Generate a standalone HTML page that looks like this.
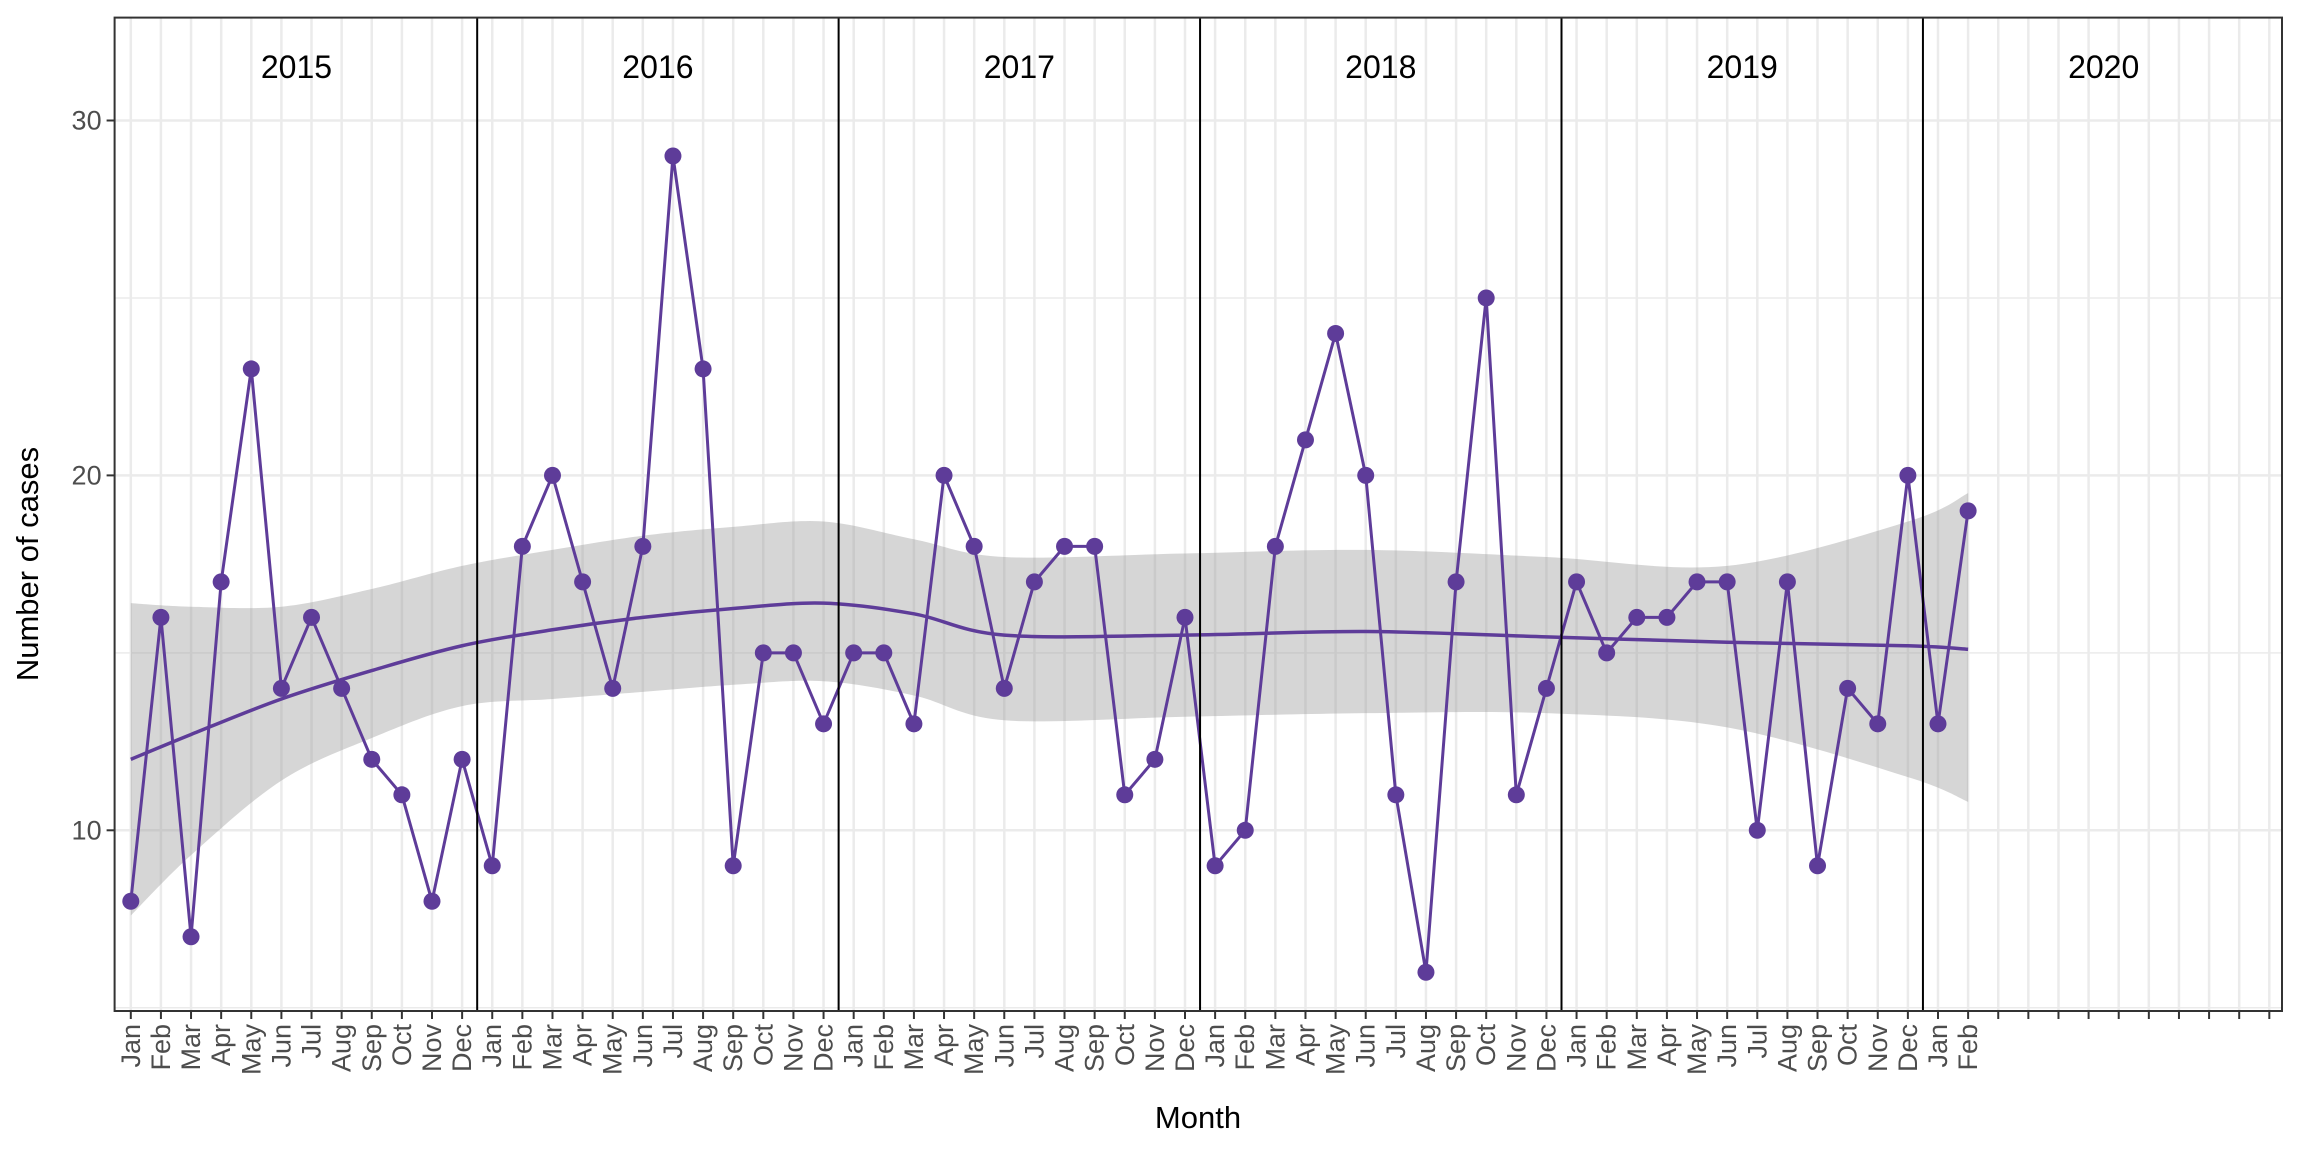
<!DOCTYPE html>
<html><head><meta charset="utf-8"><style>
html,body{margin:0;padding:0;background:#fff;}
svg{display:block;font-family:"Liberation Sans",Arial,sans-serif;}
</style></head><body>
<svg id="chart" width="2304" height="1152" viewBox="0 0 2304 1152" xmlns="http://www.w3.org/2000/svg">
<g id="grid"></g>
<g id="ribbon"></g>
<g id="series"></g>
<g id="axes"></g>
<text x="38" y="564" font-size="31" fill="#000" text-anchor="middle" transform="rotate(-90 38 564)">Number of cases</text>
<text x="1198" y="1128" font-size="31" fill="#000" text-anchor="middle">Month</text>
</svg>
<script>
const years = ["2015","2016","2017","2018","2019","2020"];
const months = ["Jan","Feb","Mar","Apr","May","Jun","Jul","Aug","Sep","Oct","Nov","Dec"];
const cases = [8,16,7,17,23,14,16,14,12,11,8,12,
  9,18,20,17,14,18,29,23,9,15,15,13,
  15,15,13,20,18,14,17,18,18,11,12,16,
  9,10,18,21,24,20,11,6,17,25,11,14,
  17,15,16,16,17,17,10,17,9,14,13,20,
  13,19];
const smoothIdx = [0,2,5,8,11,14,17,20,23,26,29,35,41,47,53,59,61];
const smoothFit = [12.0,12.7,13.7,14.5,15.2,15.65,16.0,16.25,16.4,16.1,15.5,15.5,15.6,15.45,15.3,15.2,15.1];
const smoothUpper = [16.4,16.3,16.3,16.8,17.45,17.9,18.3,18.55,18.7,18.2,17.7,17.8,17.9,17.7,17.45,18.7,19.5];
const smoothLower = [7.6,9.3,11.4,12.6,13.5,13.7,13.9,14.1,14.2,13.8,13.1,13.2,13.3,13.3,12.9,11.5,10.8];
const yTicks = [10,20,30];
const yMinor = [5,15,25];

const NS="http://www.w3.org/2000/svg";
const L=114.6,R=2282,T=17.6,B=1011;
const x=i=>130.8+i*30.12;
const y=v=>120.5+(30-v)*35.49;
function mk(tag,attrs,parent){const e=document.createElementNS(NS,tag);for(const k in attrs)e.setAttribute(k,attrs[k]);parent.appendChild(e);return e;}
const grid=document.getElementById('grid'),rib=document.getElementById('ribbon'),ser=document.getElementById('series'),ax=document.getElementById('axes');
mk('rect',{x:L,y:T,width:R-L,height:B-T,fill:'#fff'},grid);
yMinor.forEach(v=>{if(y(v)>T&&y(v)<B){const l=mk('line',{x1:L,x2:R,y1:y(v),y2:y(v),stroke:'#ebebeb','stroke-width':1.5},grid);

}});
yTicks.forEach(v=>{const l=mk('line',{x1:L,x2:R,y1:y(v),y2:y(v),stroke:'#ebebeb','stroke-width':2.5},grid);

});
for(let i=0;i<years.length*12;i++){const l=mk('line',{x1:x(i),x2:x(i),y1:T,y2:B,stroke:'#ebebeb','stroke-width':2.5},grid);

}
function spline(idx,vals){const pts=idx.map((k,j)=>[x(k),y(vals[j])]);
 let d='M'+pts[0][0]+','+pts[0][1];
 for(let j=0;j<pts.length-1;j++){const p0=pts[Math.max(0,j-1)],p1=pts[j],p2=pts[j+1],p3=pts[Math.min(pts.length-1,j+2)];
  const c1=[p1[0]+(p2[0]-p0[0])/6,p1[1]+(p2[1]-p0[1])/6],c2=[p2[0]-(p3[0]-p1[0])/6,p2[1]-(p3[1]-p1[1])/6];
  d+=' C'+c1+' '+c2+' '+p2;}
 return d;}
function splinePts(idx,vals){const out=[];const pts=idx.map((k,j)=>[x(k),y(vals[j])]);
 for(let j=0;j<pts.length-1;j++){const p0=pts[Math.max(0,j-1)],p1=pts[j],p2=pts[j+1],p3=pts[Math.min(pts.length-1,j+2)];
  for(let t=0;t<1;t+=0.05){const t2=t*t,t3=t2*t;
   out.push([0,1].map(a=>0.5*((2*p1[a])+(-p0[a]+p2[a])*t+(2*p0[a]-5*p1[a]+4*p2[a]-p3[a])*t2+(-p0[a]+3*p1[a]-3*p2[a]+p3[a])*t3)));}}
 out.push(pts[pts.length-1]);return out;}
const up=splinePts(smoothIdx,smoothUpper),lo=splinePts(smoothIdx,smoothLower).reverse();
const band=mk('polygon',{points:up.concat(lo).map(p=>p.join(',')).join(' '),fill:'#999','fill-opacity':0.4},rib);


for(let k=1;k<years.length;k++){const xs=(x(12*k-1)+x(12*k))/2;const l=mk('line',{x1:xs,x2:xs,y1:T,y2:B,stroke:'#000','stroke-width':2},ax);

}
years.forEach((yr,k)=>{const t=mk('text',{x:(x(12*k)+x(12*k+11))/2,y:78,'font-size':32,'text-anchor':'middle',fill:'#000'},ax);t.textContent=yr;

});
const lp=mk('polyline',{points:cases.map((v,i)=>x(i)+','+y(v)).join(' '),fill:'none',stroke:'#5e3c99','stroke-width':3},ser);


const sm=mk('path',{d:spline(smoothIdx,smoothFit),fill:'none',stroke:'#5e3c99','stroke-width':3.5},ser);


cases.forEach((v,i)=>{const c=mk('circle',{cx:x(i),cy:y(v),r:8.5,fill:'#5e3c99'},ser);

});
mk('rect',{x:L,y:T,width:R-L,height:B-T,fill:'none',stroke:'#333','stroke-width':2},ax);
yTicks.forEach(v=>{mk('line',{x1:L-8,x2:L,y1:y(v),y2:y(v),stroke:'#333','stroke-width':2},ax);
const t=mk('text',{x:L-13,y:y(v)+9,'font-size':27,'text-anchor':'end',fill:'#4d4d4d'},ax);t.textContent=v;

});
for(let i=0;i<years.length*12;i++){mk('line',{x1:x(i),x2:x(i),y1:B,y2:B+8,stroke:'#333','stroke-width':2},ax);
if(i<cases.length){const tx=x(i)+9,ty=B+13;const t=mk('text',{x:tx,y:ty,'font-size':27,'text-anchor':'end',fill:'#4d4d4d',transform:'rotate(-90 '+tx+' '+ty+')'},ax);t.textContent=months[i%12];

}}
</script>
</body></html>
